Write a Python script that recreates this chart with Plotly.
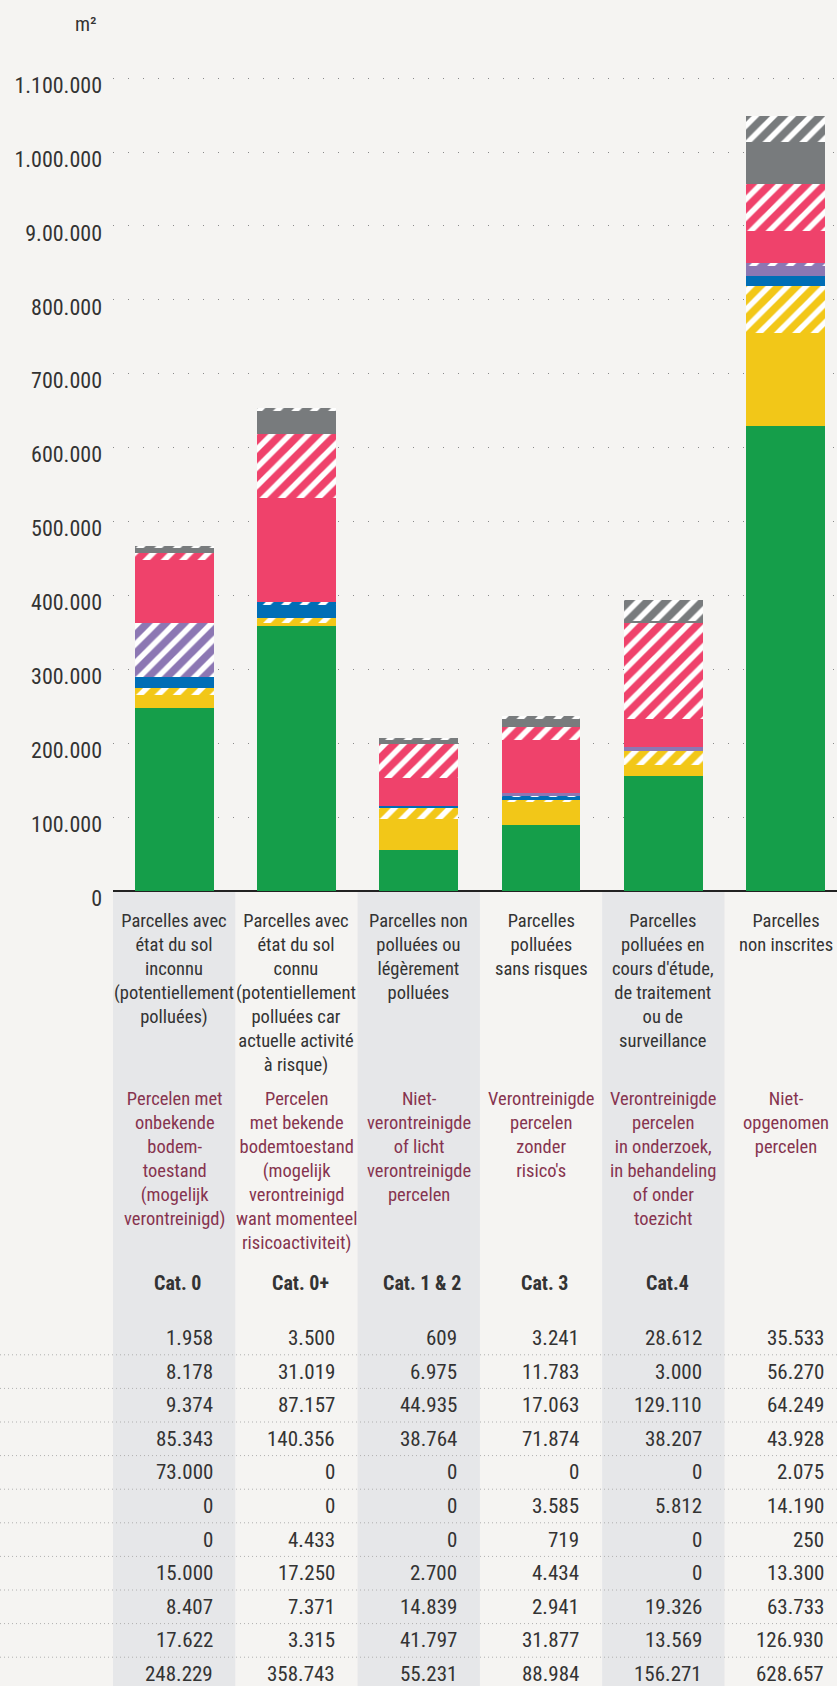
import plotly.graph_objects as go

# ---------------- data ----------------
cat_codes = ["Cat. 0", "Cat. 0+", "Cat. 1 & 2", "Cat. 3", "Cat.4", ""]
labels_fr = [
    "Parcelles avec<br>état du sol<br>inconnu<br>(potentiellement<br>polluées)",
    "Parcelles avec<br>état du sol<br>connu<br>(potentiellement<br>polluées car<br>actuelle activité<br>à risque)",
    "Parcelles non<br>polluées ou<br>légèrement<br>polluées",
    "Parcelles<br>polluées<br>sans risques",
    "Parcelles<br>polluées en<br>cours d'étude,<br>de traitement<br>ou de<br>surveillance",
    "Parcelles<br>non inscrites",
]
labels_nl = [
    "Percelen met<br>onbekende<br>bodem-<br>toestand<br>(mogelijk<br>verontreinigd)",
    "Percelen<br>met bekende<br>bodemtoestand<br>(mogelijk<br>verontreinigd<br>want momenteel<br>risicoactiviteit)",
    "Niet-<br>verontreinigde<br>of licht<br>verontreinigde<br>percelen",
    "Verontreinigde<br>percelen<br>zonder<br>risico's",
    "Verontreinigde<br>percelen<br>in onderzoek,<br>in behandeling<br>of onder<br>toezicht",
    "Niet-<br>opgenomen<br>percelen",
]

# table rows, top to bottom (= stack segments from top to bottom)
grey_hatched = [1958, 3500, 609, 3241, 28612, 35533]
grey_solid = [8178, 31019, 6975, 11783, 3000, 56270]
red_hatched = [9374, 87157, 44935, 17063, 129110, 64249]
red_solid = [85343, 140356, 38764, 71874, 38207, 43928]
purple_hatched = [73000, 0, 0, 0, 0, 2075]
purple_solid = [0, 0, 0, 3585, 5812, 14190]
blue_hatched = [0, 4433, 0, 719, 0, 250]
blue_solid = [15000, 17250, 2700, 4434, 0, 13300]
yellow_hatched = [8407, 7371, 14839, 2941, 19326, 63733]
yellow_solid = [17622, 3315, 41797, 31877, 13569, 126930]
green = [248229, 358743, 55231, 88984, 156271, 628657]

tick_values = [0, 100000, 200000, 300000, 400000, 500000, 600000,
               700000, 800000, 900000, 1000000, 1100000]
tick_labels = ["0", "100.000", "200.000", "300.000", "400.000", "500.000",
               "600.000", "700.000", "800.000", "9.00.000", "1.000.000", "1.100.000"]
unit_label = "m²"

# ---------------- styling ----------------
W, H = 837, 1686
L, T, B = 113, 60, 891          # plot area pixels (left, top, bottom)
PX_PER_100K = 73.9
X_MAX = 5.42
FONT = "Liberation Sans Narrow, Roboto Condensed, DejaVu Sans Condensed, Arial Narrow, sans-serif"
BG = "#f5f4f2"
COLBG = "#e6e7e9"
TXT = "#333333"
NL_COL = "#86344f"

C_GREEN = "#159e4a"
C_YELLOW = "#f2c718"
C_BLUE = "#006eb6"
C_PURPLE = "#8c77b3"
C_RED = "#ef426b"
C_GREY = "#787b7d"

def py(p):
    """pixel row -> paper y"""
    return (B - p) / (B - T)

x = list(range(len(green)))

stack = [  # bottom -> top
    (green, C_GREEN, False),
    (yellow_solid, C_YELLOW, False),
    (yellow_hatched, C_YELLOW, True),
    (blue_solid, C_BLUE, False),
    (blue_hatched, C_BLUE, True),
    (purple_solid, C_PURPLE, False),
    (purple_hatched, C_PURPLE, True),
    (red_solid, C_RED, False),
    (red_hatched, C_RED, True),
    (grey_solid, C_GREY, False),
    (grey_hatched, C_GREY, True),
]

fig = go.Figure()
for vals, col, hatched in stack:
    marker = dict(color=col, line=dict(width=0))
    if hatched:
        marker["pattern"] = dict(shape="/", fgcolor="white", bgcolor=col,
                                 fillmode="replace", size=13, solidity=0.42)
    fig.add_trace(go.Bar(x=x, y=vals, marker=marker, showlegend=False,
                         hoverinfo="y"))

shapes = []
# grey background columns under the chart
for i in range(0, len(x), 2):
    shapes.append(dict(type="rect", xref="x", yref="paper",
                       x0=i - 0.5, x1=i + 0.5, y0=py(892), y1=py(H + 5),
                       fillcolor=COLBG, line=dict(width=0), layer="below"))

table_rows = [grey_hatched, grey_solid, red_hatched, red_solid, purple_hatched,
              purple_solid, blue_hatched, blue_solid, yellow_hatched,
              yellow_solid, green]
ROW0, ROWH = 1338, 33.6
for k in range(len(table_rows) - 1):
    yy = py(ROW0 + ROWH * (k + 0.5))
    shapes.append(dict(type="line", xref="paper", yref="paper",
                       x0=-L / (W - L), x1=1, y0=yy, y1=yy,
                       line=dict(color="#b0b0b0", width=1, dash="1px,3px")))

annotations = []
annotations.append(dict(text=unit_label, xref="paper", yref="paper",
                        x=-14 / (W - L), y=py(24), xanchor="right", yanchor="middle",
                        showarrow=False, font=dict(size=20, color=TXT, family=FONT)))
for i in x:
    annotations.append(dict(text=labels_fr[i], xref="x", yref="paper",
                            x=i, y=py(908), xanchor="center", yanchor="top",
                            showarrow=False, align="center",
                            font=dict(size=18.5, color=TXT, family=FONT)))
    annotations.append(dict(text=labels_nl[i], xref="x", yref="paper",
                            x=i, y=py(1086), xanchor="center", yanchor="top",
                            showarrow=False, align="center",
                            font=dict(size=18.5, color=NL_COL, family=FONT)))
    if cat_codes[i]:
        annotations.append(dict(text="<b>" + cat_codes[i] + "</b>", xref="x", yref="paper",
                                x=i + 0.03, y=py(1283), xanchor="center", yanchor="middle",
                                showarrow=False,
                                font=dict(size=20, color=TXT, family=FONT)))
    for k, row in enumerate(table_rows):
        annotations.append(dict(text=f"{row[i]:,}".replace(",", "."),
                                xref="x", yref="paper",
                                x=i + 0.33, y=py(ROW0 + ROWH * k),
                                xanchor="right", yanchor="middle", showarrow=False,
                                font=dict(size=21, color=TXT, family=FONT)))

fig.update_layout(
    width=W, height=H,
    margin=dict(l=L, r=0, t=T, b=H - B, pad=0),
    paper_bgcolor=BG, plot_bgcolor=BG,
    barmode="stack", bargap=0.355,
    font=dict(family=FONT, color=TXT),
    shapes=shapes, annotations=annotations,
    xaxis=dict(range=[-0.5, X_MAX], showticklabels=False, showgrid=False,
               zeroline=False, showline=False, fixedrange=True),
    yaxis=dict(range=[0, 100000 * (B - T) / PX_PER_100K],
               tickvals=tick_values, ticktext=tick_labels,
               tickfont=dict(size=22, color=TXT, family=FONT),
               ticklabelshift=7, ticklabelstandoff=10,
               showgrid=True, gridcolor="#8a8a8a", gridwidth=1.3, griddash="1px,14px",
               zeroline=True, zerolinecolor="#222222", zerolinewidth=1.6,
               showline=False, ticks=""),
)

fig.write_html(
    "out.html",
    config={"displayModeBar": False},
    post_script="document.body.style.margin='0';document.body.style.padding='0';"
                "document.body.style.overflow='hidden';"
                "document.body.style.background='" + BG + "';",
)
